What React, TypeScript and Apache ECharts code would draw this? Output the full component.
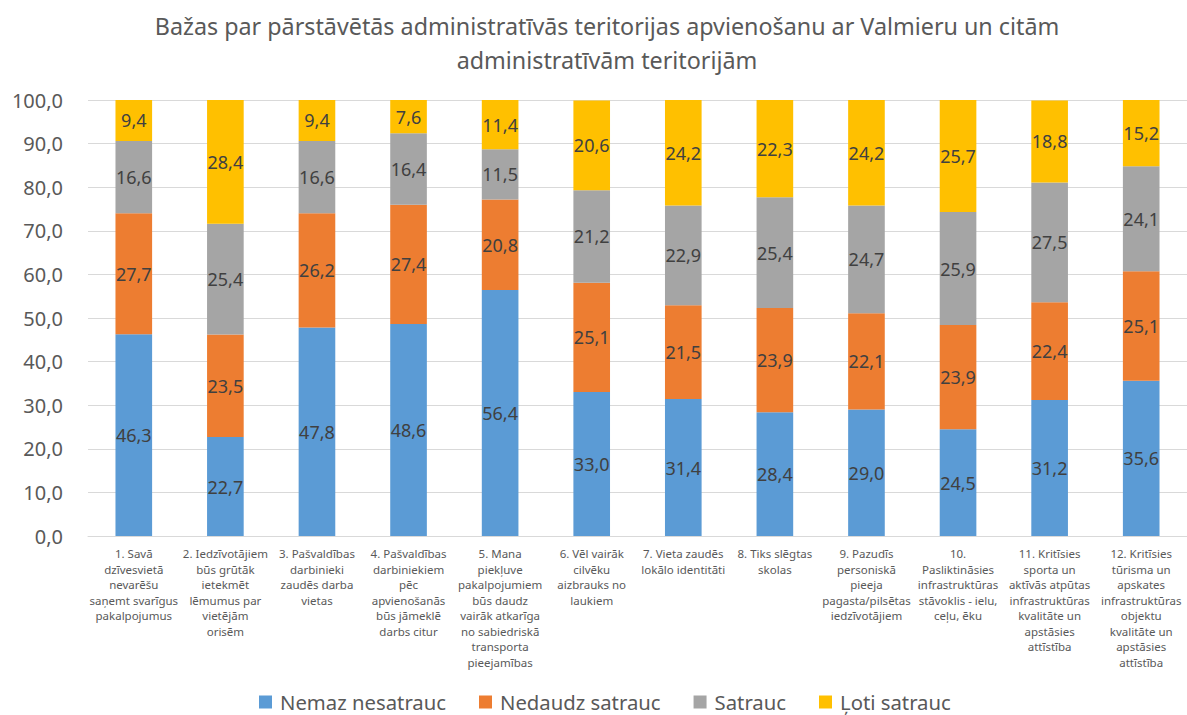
import React, { useEffect, useRef } from "react";
import * as echarts from "echarts";

const categories = [
  "1. Savā\ndzīvesvietā\nnevarēšu\nsaņemt svarīgus\npakalpojumus",
  "2. Iedzīvotājiem\nbūs grūtāk\nietekmēt\nlēmumus par\nvietējām\norisēm",
  "3. Pašvaldības\ndarbinieki\nzaudēs darba\nvietas",
  "4. Pašvaldības\ndarbiniekiem\npēc\napvienošanās\nbūs jāmeklē\ndarbs citur",
  "5. Mana\npiekļuve\npakalpojumiem\nbūs daudz\nvairāk atkarīga\nno sabiedriskā\ntransporta\npieejamības",
  "6. Vēl vairāk\ncilvēku\naizbrauks no\nlaukiem",
  "7. Vieta zaudēs\nlokālo identitāti",
  "8. Tiks slēgtas\nskolas",
  "9. Pazudīs\npersoniskā\npieeja\npagasta/pilsētas\niedzīvotājiem",
  "10.\nPasliktināsies\ninfrastruktūras\nstāvoklis - ielu,\nceļu, ēku",
  "11. Kritīsies\nsporta un\naktīvās atpūtas\ninfrastruktūras\nkvalitāte un\napstāsies\nattīstība",
  "12. Kritīsies\ntūrisma un\napskates\ninfrastruktūras\nobjektu\nkvalitāte un\napstāsies\nattīstība",
];

const nemaz = [46.3, 22.7, 47.8, 48.6, 56.4, 33.0, 31.4, 28.4, 29.0, 24.5, 31.2, 35.6];
const nedaudz = [27.7, 23.5, 26.2, 27.4, 20.8, 25.1, 21.5, 23.9, 22.1, 23.9, 22.4, 25.1];
const satrauc = [16.6, 25.4, 16.6, 16.4, 11.5, 21.2, 22.9, 25.4, 24.7, 25.9, 27.5, 24.1];
const loti = [9.4, 28.4, 9.4, 7.6, 11.4, 20.6, 24.2, 22.3, 24.2, 25.7, 18.8, 15.2];

const seriesNames = ["Nemaz nesatrauc", "Nedaudz satrauc", "Satrauc", "Ļoti satrauc"];
const colors = ["#5B9BD5", "#ED7D31", "#A5A5A5", "#FFC000"];

const FONT = "'Noto Sans', sans-serif";

export default function App() {
  const ref = useRef<HTMLDivElement>(null);
  useEffect(() => {
    if (!ref.current) return;
    const chart = echarts.init(ref.current, undefined, { renderer: "svg" });
    const fmt = (v: number) => v.toFixed(1).replace(".", ",");
    const mk = (name: string, data: number[], color: string) => ({
      name,
      type: "bar",
      stack: "total",
      data,
      barWidth: "40%",
      itemStyle: { color },
      label: {
        show: true,
        position: "inside",
        color: "#404040",
        fontSize: 18,
        fontFamily: FONT,
        formatter: (p: any) => fmt(p.value),
      },
    });
    chart.setOption({
      animation: false,
      textStyle: { fontFamily: FONT },
      title: {
        text: "Bažas par pārstāvētās administratīvās teritorijas apvienošanu ar Valmieru un citām\nadministratīvām teritorijām",
        left: 602,
        textAlign: "center",
        top: 4,
        textStyle: {
          fontSize: 23.3,
          fontWeight: "normal",
          color: "#595959",
          lineHeight: 34,
          fontFamily: FONT,
        },
      },
      legend: {
        bottom: -2,
        left: 254,
        itemWidth: 13,
        itemHeight: 13,
        itemGap: 33,
        icon: "rect",
        textStyle: { fontSize: 20.3, color: "#595959", fontFamily: FONT, padding: [0, 0, 0, 3] },
        data: seriesNames,
      },
      grid: { left: 88, top: 100, width: 1101, bottom: 179 },
      xAxis: {
        type: "category",
        data: categories,
        axisTick: { show: false },
        axisLine: { lineStyle: { color: "#D9D9D9" } },
        axisLabel: {
          interval: 0,
          color: "#595959",
          fontSize: 11.5,
          lineHeight: 15.5,
          margin: 10,
          fontFamily: FONT,
        },
      },
      yAxis: {
        type: "value",
        min: 0,
        max: 100,
        interval: 10,
        axisLine: { show: false },
        axisTick: { show: false },
        splitLine: { lineStyle: { color: "#D9D9D9" } },
        axisLabel: {
          color: "#595959",
          fontSize: 20,
          margin: 25,
          fontFamily: FONT,
          formatter: (v: number) => fmt(v),
        },
      },
      series: [
        mk(seriesNames[0], nemaz, colors[0]),
        mk(seriesNames[1], nedaudz, colors[1]),
        mk(seriesNames[2], satrauc, colors[2]),
        mk(seriesNames[3], loti, colors[3]),
      ],
    });
    return () => chart.dispose();
  }, []);
  return <div ref={ref} style={{ width: 1187, height: 715, position: "absolute", left: 0, top: 0, background: "#fff" }} />;
}
